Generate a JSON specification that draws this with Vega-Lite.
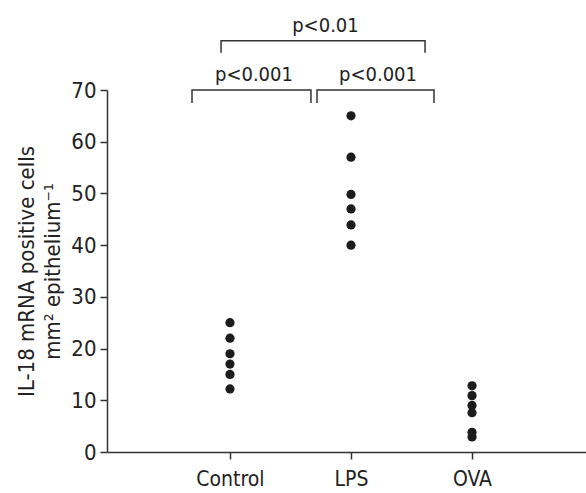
{
  "$schema": "https://vega.github.io/schema/vega-lite/v6.json",
  "width": 479,
  "height": 362,
  "autosize": {"type": "none"},
  "padding": {"left": 107, "top": 90, "right": 0, "bottom": 41},
  "config": {
    "view": {"stroke": null},
    "font": "'DejaVu Sans Condensed', 'Liberation Sans', sans-serif",
    "axis": {
      "domainColor": "#333333",
      "domainWidth": 1.5,
      "tickColor": "#333333",
      "tickWidth": 1.5,
      "tickSize": 7,
      "labelColor": "#222222",
      "titleColor": "#222222",
      "labelFont": "'DejaVu Sans Condensed', 'Liberation Sans', sans-serif",
      "titleFont": "'DejaVu Sans Condensed', 'Liberation Sans', sans-serif",
      "grid": false
    }
  },
  "resolve": {"scale": {"x": "independent"}, "axis": {"x": "independent"}},
  "layer": [
    {
      "data": {
        "values": [
          {"group": "Control", "value": 25},
          {"group": "Control", "value": 22},
          {"group": "Control", "value": 19},
          {"group": "Control", "value": 17},
          {"group": "Control", "value": 15},
          {"group": "Control", "value": 12.2},
          {"group": "LPS", "value": 65},
          {"group": "LPS", "value": 57},
          {"group": "LPS", "value": 49.8},
          {"group": "LPS", "value": 47},
          {"group": "LPS", "value": 43.9},
          {"group": "LPS", "value": 40},
          {"group": "OVA", "value": 12.8},
          {"group": "OVA", "value": 10.9},
          {"group": "OVA", "value": 9},
          {"group": "OVA", "value": 7.6},
          {"group": "OVA", "value": 3.8},
          {"group": "OVA", "value": 2.9}
        ]
      },
      "mark": {"type": "circle", "size": 85, "color": "#1c1c1c", "opacity": 1},
      "encoding": {
        "x": {
          "field": "group",
          "type": "nominal",
          "sort": ["Control", "LPS", "OVA"],
          "scale": {"type": "point", "padding": 0.979, "align": 0.519},
          "axis": {
            "title": null,
            "labelAngle": 0,
            "labelFontSize": 21,
            "labelPadding": 9
          }
        },
        "y": {
          "field": "value",
          "type": "quantitative",
          "scale": {"domain": [0, 70], "nice": false},
          "axis": {
            "values": [0, 10, 20, 30, 40, 50, 60, 70],
            "labelFontSize": 22,
            "labelPadding": 4,
            "title": ["IL-18 mRNA positive cells", "mm² epithelium⁻¹"],
            "titleFontSize": 22,
            "titleFontWeight": "normal",
            "titleLineHeight": 26,
            "titlePadding": 6
          }
        }
      }
    },
    {
      "data": {
        "values": [
          {"bracket": "Control-LPS", "i": 1, "x": 0.686, "value": 67.5},
          {"bracket": "Control-LPS", "i": 2, "x": 0.686, "value": 70},
          {"bracket": "Control-LPS", "i": 3, "x": 1.669, "value": 70},
          {"bracket": "Control-LPS", "i": 4, "x": 1.669, "value": 67.5},
          {"bracket": "LPS-OVA", "i": 1, "x": 1.719, "value": 67.5},
          {"bracket": "LPS-OVA", "i": 2, "x": 1.719, "value": 70},
          {"bracket": "LPS-OVA", "i": 3, "x": 2.686, "value": 70},
          {"bracket": "LPS-OVA", "i": 4, "x": 2.686, "value": 67.5},
          {"bracket": "Control-OVA", "i": 1, "x": 0.926, "value": 77.2},
          {"bracket": "Control-OVA", "i": 2, "x": 0.926, "value": 79.5},
          {"bracket": "Control-OVA", "i": 3, "x": 2.612, "value": 79.5},
          {"bracket": "Control-OVA", "i": 4, "x": 2.612, "value": 77.2}
        ]
      },
      "mark": {"type": "line", "color": "#333333", "strokeWidth": 1.5, "clip": false},
      "encoding": {
        "x": {"field": "x", "type": "quantitative", "scale": {"domain": [-0.0165, 3.942], "nice": false, "zero": false}, "axis": null},
        "y": {"field": "value", "type": "quantitative"},
        "detail": {"field": "bracket"},
        "order": {"field": "i"}
      }
    },
    {
      "data": {
        "values": [
          {"label": "p<0.001", "x": 1.198, "value": 71.7},
          {"label": "p<0.001", "x": 2.223, "value": 71.7},
          {"label": "p<0.01", "x": 1.789, "value": 81.2}
        ]
      },
      "mark": {"type": "text", "fontSize": 20, "baseline": "alphabetic", "align": "center", "color": "#222222"},
      "encoding": {
        "x": {"field": "x", "type": "quantitative", "scale": {"domain": [-0.0165, 3.942], "nice": false, "zero": false}, "axis": null},
        "y": {"field": "value", "type": "quantitative"},
        "text": {"field": "label"}
      }
    }
  ]
}
